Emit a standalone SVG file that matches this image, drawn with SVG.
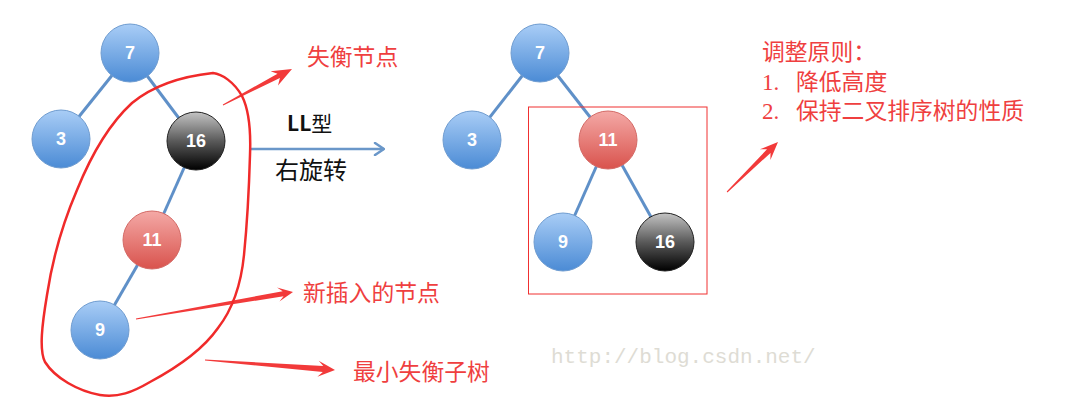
<svg xmlns="http://www.w3.org/2000/svg" width="1089" height="402" viewBox="0 0 1089 402">
<defs>
<linearGradient id="gBlue" x1="0" y1="0" x2="0" y2="1"><stop offset="0" stop-color="#a9cdf6"/><stop offset="1" stop-color="#4b8bd5"/></linearGradient>
<linearGradient id="gRed" x1="0" y1="0" x2="0" y2="1"><stop offset="0" stop-color="#f4a9a6"/><stop offset="1" stop-color="#d9534d"/></linearGradient>
<linearGradient id="gBlack" x1="0" y1="0" x2="0" y2="1"><stop offset="0" stop-color="#c4c4c4"/><stop offset="0.5" stop-color="#5a5a5a"/><stop offset="1" stop-color="#000"/></linearGradient>
<marker id="chev" viewBox="0 0 12 14" refX="11" refY="7" markerWidth="12" markerHeight="14" markerUnits="userSpaceOnUse" orient="auto"><path d="M2,1 L11,7 L2,13" fill="none" stroke="#6a97c9" stroke-width="2.5" stroke-linecap="round"/></marker>
</defs>
<style>
.edge{stroke:#5f90c8;stroke-width:3;fill:none}
.blue{fill:url(#gBlue);stroke:#6f9cd0;stroke-width:1}
.red{fill:url(#gRed);stroke:#d46a66;stroke-width:1}
.black{fill:url(#gBlack);stroke:#222;stroke-width:1}
.num{font-family:"Liberation Sans",Arial,sans-serif;font-size:18px;font-weight:bold;fill:#fff;text-anchor:middle}
.rt{font-family:"Noto Sans CJK SC",sans-serif;font-size:22.8px;fill:#ef3f3f}
.rn{font-family:"Liberation Serif",serif;font-size:23px;fill:#ef3f3f}
.bt{font-family:"Noto Sans CJK SC",sans-serif;fill:#111}
.ann{fill:#f23a3a}
</style>
<rect width="1089" height="402" fill="#fff"/>
<g id="connectors">
<line class="edge" x1="130" y1="53" x2="61" y2="139"/>
<line class="edge" x1="130" y1="53" x2="196" y2="141"/>
<line class="edge" x1="196" y1="141" x2="152" y2="240"/>
<line class="edge" x1="152" y1="240" x2="100" y2="330"/>
<line class="edge" x1="540" y1="53" x2="472" y2="140"/>
<line class="edge" x1="540" y1="53" x2="608" y2="140"/>
<line class="edge" x1="608" y1="140" x2="563" y2="242"/>
<line class="edge" x1="608" y1="140" x2="665" y2="242"/>
<line x1="250" y1="149" x2="384" y2="149" stroke="#6a97c9" stroke-width="2.5" marker-end="url(#chev)"/>
<polygon class="ann" points="223.2,105.4 279.9,78.1 278.0,85.4 292,69 270.6,71.2 277.5,73.7 222.8,104.6"/>
<polygon class="ann" points="136.1,319.5 283.6,296.2 279.4,301.4 293,292 277.0,287.6 282.7,291.2 135.9,318.5"/>
<polygon class="ann" points="205.0,360.5 322.8,372.1 317.4,376.7 335,370 318.7,360.7 323.3,366.1 205.0,359.5"/>
<polygon class="ann" points="727.4,192.4 770.5,152.9 770.4,160.0 778,142 759.9,149.3 767.0,149.3 726.7,191.6"/>
</g>
<g id="loop">
<path d="M213,73 C222,74 234,82 242,96 C249,110 251,130 250,155 C249,190 247,225 244,255 C241,285 232,310 218,328 C204,348 180,366 150,382 C133,392 118,398 100,395 C78,391 55,378 45,362 C39,350 42,325 47,295 C52,262 62,225 77,190 C90,158 108,125 132,103 C155,84 185,76 213,73 Z" fill="none" stroke="#f02a2a" stroke-width="2.5"/>
</g>
<g id="n7L"><circle class="blue" cx="130" cy="53" r="29"/><text class="num" x="130" y="59">7</text></g>
<g id="n3L"><circle class="blue" cx="61" cy="139" r="29"/><text class="num" x="61" y="145">3</text></g>
<g id="n16L"><circle class="black" cx="196" cy="141" r="29"/><text class="num" x="196" y="147">16</text></g>
<g id="n11L"><circle class="red" cx="152" cy="240" r="29"/><text class="num" x="152" y="246">11</text></g>
<g id="n9L"><circle class="blue" cx="100" cy="330" r="29"/><text class="num" x="100" y="336">9</text></g>
<g id="n7R"><circle class="blue" cx="540" cy="53" r="29"/><text class="num" x="540" y="59">7</text></g>
<g id="n3R"><circle class="blue" cx="472" cy="140" r="29"/><text class="num" x="472" y="146">3</text></g>
<g id="n11R"><circle class="red" cx="608" cy="140" r="29"/><text class="num" x="608" y="146">11</text></g>
<g id="n9R"><circle class="blue" cx="563" cy="242" r="29"/><text class="num" x="563" y="248">9</text></g>
<g id="n16R"><circle class="black" cx="665" cy="242" r="29"/><text class="num" x="665" y="248">16</text></g>
<g id="subtreeBox"><rect x="528.5" y="107" width="178.5" height="187" fill="none" stroke="#f03030" stroke-width="1"/></g>
<g id="labels">
<text class="bt" x="287" y="131" font-size="21"><tspan font-weight="bold">LL</tspan>型</text>
<text class="bt" x="275" y="179" font-size="24">右旋转</text>
<text class="rt" x="307" y="65">失衡节点</text>
<text class="rt" x="303" y="301">新插入的节点</text>
<text class="rt" x="353" y="380">最小失衡子树</text>
<text class="rt" x="762" y="60">调整原则：</text>
<text class="rn" x="762" y="90">1.</text>
<text class="rt" x="796" y="90">降低高度</text>
<text class="rn" x="762" y="119">2.</text>
<text class="rt" x="796" y="119">保持二叉排序树的性质</text>
<text x="551" y="363" font-family="Liberation Mono,monospace" font-size="21" fill="#dedcd4">http://blog.csdn.net/</text>
</g>
</svg>
